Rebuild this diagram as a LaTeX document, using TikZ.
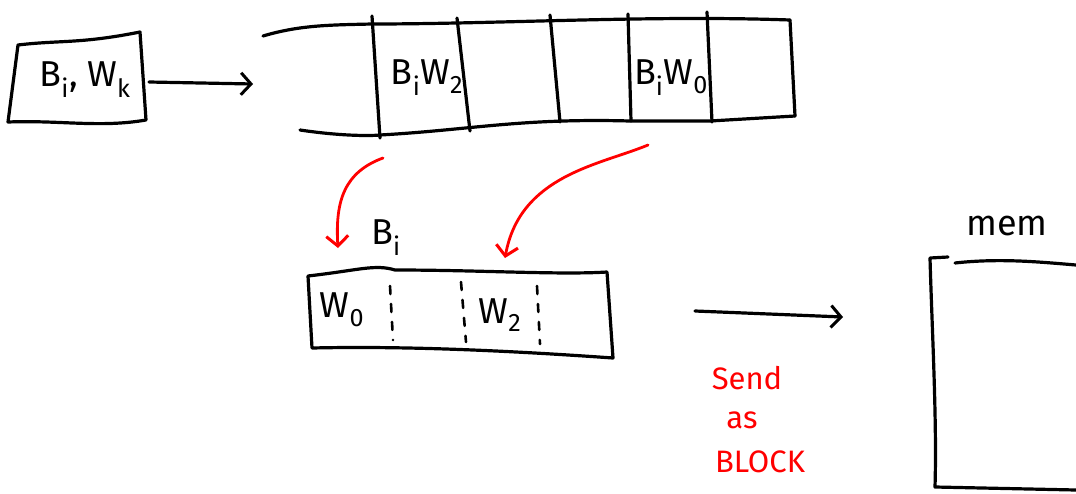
\documentclass[tikz,border=0pt]{standalone}
\usepackage{fontspec}
\setmainfont{Fira Sans}
\usetikzlibrary{arrows.meta}
\begin{document}
\begin{tikzpicture}[x=1pt,y=-1pt,
  ink/.style={line width=3.2pt,line cap=round,line join=round,black},
  redink/.style={line width=2.8pt,line cap=round,red},
  opentip/.style={-{Straight Barb[length=10pt,width=22pt,line width=3pt]}},
  label/.style={font=\fontsize{36}{38}\selectfont,inner sep=0pt},
  redlabel/.style={font=\fontsize{31}{33}\selectfont,text=red,inner sep=0pt,align=center},
  divider/.style={line width=2.6pt,line cap=round,dash pattern=on 8pt off 10pt}]
\useasboundingbox (0,0) rectangle (1076,493);

% Input pair box
\draw[ink] (18,45) .. controls (60,40) and (80,44) .. (140,32) -- (146,120)
  .. controls (100,128) and (60,120) .. (8,122) -- cycle;
\node[label] (pair) at (85,80) {B\textsubscript{i}, W\textsubscript{k}};
\coordinate (pairE) at (149,82);
\coordinate (stripW) at (253,84);
\draw[ink,opentip] (pairE) -- (stripW);

% Strip of slots
\draw[ink] (263,36) .. controls (300,25) and (330,25) .. (372,24)
  .. controls (500,24) and (650,15) .. (790,20);
\draw[ink] (300,130) .. controls (340,136) and (370,136) .. (380,135)
  .. controls (470,130) and (520,118) .. (630,121) -- (710,121) -- (795,116);
\draw[ink] (790,20) -- (795,116);
\draw[ink] (372,16) -- (380,138);
\draw[ink] (457,18) -- (470,131);
\draw[ink] (550,15) -- (560,122);
\draw[ink] (628,14) -- (631,121);
\draw[ink] (707,12) -- (712,122);
\node[label] (slotA) at (427,78) {B\textsubscript{i}W\textsubscript{2}};
\node[label] (slotB) at (671,78) {B\textsubscript{i}W\textsubscript{0}};

% Assembled block
\draw[ink] (308,276) .. controls (360,270) and (375,264) .. (395,270)
  .. controls (480,270) and (560,275) .. (607,272) -- (613,358)
  .. controls (500,350) and (400,346) .. (312,348) -- cycle;
\draw[divider] (390,286) -- (393,340);
\draw[divider] (461,282) -- (466,342);
\draw[divider] (537,286) -- (540,344);
\node[label] (blkW0) at (342,310) {W\textsubscript{0}};
\node[label] (blkW2) at (500,315) {W\textsubscript{2}};
\node[label] (blkB) at (386,238) {B\textsubscript{i}};

% Red moves from the strip into the block
\coordinate (fromA) at (383,158);
\coordinate (toA) at (338,248);
\coordinate (fromB) at (648,145);
\coordinate (toB) at (505,258);
\draw[redink,opentip] (fromA) .. controls (345,172) and (335,200) .. (toA);
\draw[redink,opentip] (fromB) .. controls (600,165) and (520,175) .. (toB);

% Send arrow and caption
\coordinate (sendA) at (695,311);
\coordinate (sendB) at (843,317);
\draw[ink,opentip] (sendA) -- (sendB);
\node[redlabel] (send) at (747,378) {Send};
\node[redlabel] (as) at (742,420) {as};
\node[redlabel] (block) at (760,462) {BLOCK};

% Memory
\draw[ink] (948,257) -- (930,258) .. controls (932,330) and (937,420) .. (935,487)
  -- (1076,490);
\draw[ink] (955,263) .. controls (1000,258) and (1040,262) .. (1076,265);
\node[label] (mem) at (1007,226) {mem};
\end{tikzpicture}
\end{document}
